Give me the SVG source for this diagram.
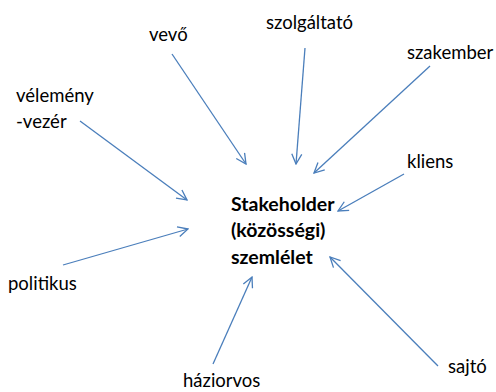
<svg xmlns="http://www.w3.org/2000/svg" width="496" height="392" viewBox="0 0 496 392">
<defs>
<marker id="ah" viewBox="0 0 12 12" refX="11" refY="6" markerWidth="12" markerHeight="12" markerUnits="userSpaceOnUse" orient="auto">
<path d="M1,1 L11,6 L1,11" fill="none" stroke="#4a7ebb" stroke-width="1.3"/>
</marker>
<style>
.t{font-family:Lato,"Liberation Sans",sans-serif;font-size:18.5px;fill:#000}
.b{font-family:Lato,"Liberation Sans",sans-serif;font-size:19.5px;font-weight:bold;fill:#000}
.c line{stroke:#4a7ebb;stroke-width:1.3;marker-end:url(#ah)}
</style>
</defs>
<rect width="496" height="392" fill="#fff"/>
<g id="center"><text class="b" x="231" y="211">Stakeholder</text><text class="b" x="231" y="237">(közösségi)</text><text class="b" x="231" y="264">szemlélet</text></g>
<g id="vevo"><text class="t" x="149" y="41">vevő</text></g>
<g id="szolgaltato"><text class="t" x="266" y="29">szolgáltató</text></g>
<g id="szakember"><text class="t" x="407" y="59">szakember</text></g>
<g id="kliens"><text class="t" x="407" y="168">kliens</text></g>
<g id="velemenyvezer"><text class="t" x="16" y="102">vélemény</text><text class="t" x="16" y="128">-vezér</text></g>
<g id="politikus"><text class="t" x="8" y="290">politikus</text></g>
<g id="haziorvos"><text class="t" x="183" y="387">háziorvos</text></g>
<g id="sajto"><text class="t" x="448" y="373">sajtó</text></g>
<g class="c" id="connectors">
<line x1="172" y1="54" x2="246" y2="164"/>
<line x1="305" y1="48" x2="296" y2="164"/>
<line x1="430" y1="66" x2="314" y2="173"/>
<line x1="404" y1="174" x2="338" y2="211"/>
<line x1="80" y1="121" x2="187" y2="200"/>
<line x1="63" y1="265" x2="188" y2="229"/>
<line x1="213" y1="364" x2="252" y2="277"/>
<line x1="438" y1="366" x2="330" y2="257"/>
</g>
</svg>
